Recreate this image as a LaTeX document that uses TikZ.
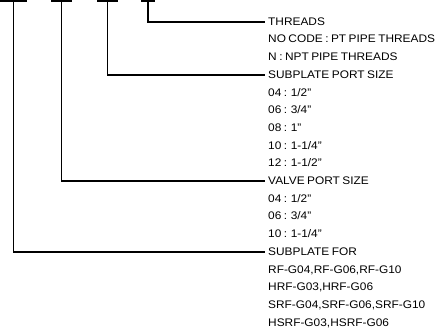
\documentclass[tikz,border=0pt]{standalone}
\usepackage{fontspec}
\setmainfont{Liberation Sans}[FakeStretch=1.08,WordSpace=0.75]
\usetikzlibrary{positioning}

\begin{document}
\begin{tikzpicture}[x=1pt,y=-1pt,
  lead/.style={line width=1.8pt},
  row/.style={inner sep=0pt,anchor=west,text height=11.9pt,text depth=5.4pt,
    font=\fontsize{11}{13}\selectfont}]
\useasboundingbox (0,0) rectangle (438,332);
% code bars
\foreach \a/\b/\n in {0/27/1,51/72/2,97/118/3,141/155/4}
  \draw[lead] (\a,1)--(\b,1) coordinate[midway] (c\n);
% text column
\node[row] (l1) at (268,22) {THREADS};
\foreach \t [count=\i from 2, remember=\i as \p (initially 1)] in
  {{NO CODE : PT PIPE THREADS},{N : NPT PIPE THREADS},
   {SUBPLATE PORT SIZE},{04 : 1/2"},{06 : 3/4"},{08 : 1"},{10 : 1-1/4"},{12 : 1-1/2"},
   {VALVE PORT SIZE},{04 : 1/2"},{06 : 3/4"},{10 : 1-1/4"},
   {SUBPLATE FOR},{RF-G04,RF-G06,RF-G10},{HRF-G03,HRF-G06},
   {SRF-G04,SRF-G06,SRF-G10},{HSRF-G03,HSRF-G06}}
  \node[row,below=0pt of l\p.south west,anchor=north west] (l\i) {\t};
% leaders
\draw[lead] (c4) |- ([xshift=-3pt]l1.west);
\draw[lead] (c3) |- ([xshift=-3pt]l4.west);
\draw[lead] (c2) |- ([xshift=-3pt]l10.west);
\draw[lead] (c1) |- ([xshift=-3pt]l14.west);
\end{tikzpicture}
\end{document}
